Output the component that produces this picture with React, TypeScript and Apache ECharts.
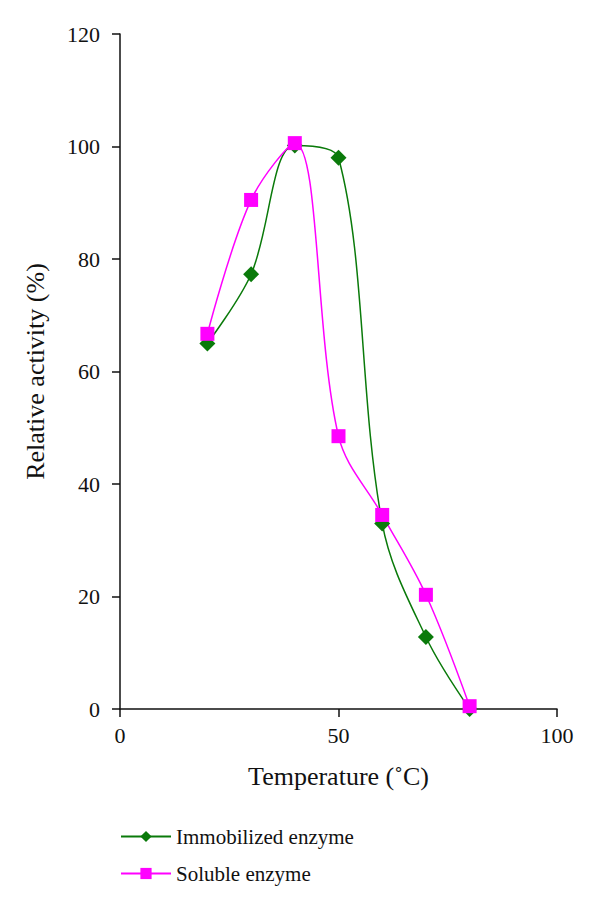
import React, { useEffect, useRef } from "react";
import * as echarts from "echarts";

const temperatures = [20, 30, 40, 50, 60, 70, 80];
const immobilized = [65, 77.3, 100.2, 98, 33, 12.8, 0];
const soluble = [66.7, 90.5, 100.6, 48.5, 34.5, 20.3, 0.5];
const seriesNames = ["Immobilized enzyme", "Soluble enzyme"];

const FONT = "Liberation Serif";

export default function App() {
  const ref = useRef<HTMLDivElement>(null);
  useEffect(() => {
    if (!ref.current) return;
    const chart = echarts.init(ref.current, undefined, { renderer: "svg" });
    const axisCommon = {
      axisLine: { show: true, lineStyle: { color: "#111", width: 1.5 } },
      axisTick: { show: true, inside: false, length: 8, lineStyle: { color: "#111", width: 1.5 } },
      splitLine: { show: false },
      axisLabel: { color: "#111", fontFamily: FONT, fontSize: 22 },
      nameTextStyle: { color: "#111", fontFamily: FONT, fontSize: 26 },
    };
    chart.setOption({
      animation: false,
      backgroundColor: "#fff",
      grid: { left: 120, right: 43, top: 34, bottom: 201, containLabel: false },
      xAxis: {
        type: "value",
        min: 0,
        max: 100,
        interval: 50,
        name: "Temperature (˚C)",
        nameLocation: "middle",
        nameGap: 54,
        ...axisCommon,
        axisLabel: { ...axisCommon.axisLabel, margin: 15 },
      },
      yAxis: {
        type: "value",
        min: 0,
        max: 120,
        interval: 20,
        name: "Relative activity (%)",
        nameLocation: "middle",
        nameGap: 72,
        ...axisCommon,
        axisLabel: { ...axisCommon.axisLabel, margin: 20 },
      },
      legend: {
        orient: "vertical",
        left: 115,
        top: 821,
        itemWidth: 50,
        itemHeight: 14,
        itemGap: 16,
        textStyle: { color: "#111", fontFamily: FONT, fontSize: 21 },
        data: seriesNames,
      },
      series: [
        {
          name: seriesNames[0],
          type: "line",
          data: temperatures.map((t, i) => [t, immobilized[i]]),
          smooth: 0.35,
          smoothConstraint: false,
          symbol: "diamond",
          symbolSize: 16,
          itemStyle: { color: "#0a7a0a" },
          lineStyle: { color: "#0a7a0a", width: 1.5 },
        },
        {
          name: seriesNames[1],
          type: "line",
          data: temperatures.map((t, i) => [t, soluble[i]]),
          smooth: 0.35,
          smoothConstraint: false,
          symbol: "rect",
          symbolSize: 14,
          itemStyle: { color: "#ff00ff" },
          lineStyle: { color: "#ff00ff", width: 1.5 },
        },
      ],
    });
    return () => chart.dispose();
  }, []);
  return <div ref={ref} style={{ width: 600, height: 910, position: "absolute", left: 0, top: 0 }} />;
}
